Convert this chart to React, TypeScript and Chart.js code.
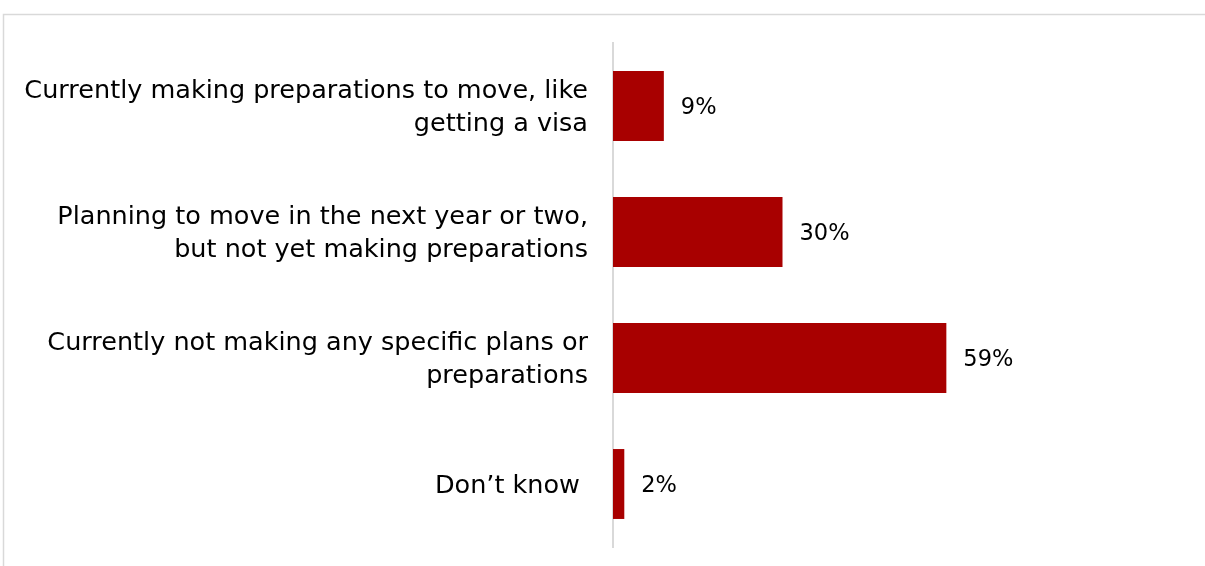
import React, { useEffect, useRef } from "react";
import { Chart, registerables } from "chart.js";

Chart.register(...registerables);

const categories: string[][] = [
  ["Currently making preparations to move, like", "getting a visa"],
  ["Planning to move in the next year or two,", "but not yet making preparations"],
  ["Currently not making any specific plans or", "preparations"],
  ["Don\u2019t know "],
];
const values: number[] = [9, 30, 59, 2];
const valueLabels: string[] = ["9%", "30%", "59%", "2%"];

const FONT = "'DejaVu Sans', sans-serif";

const frame = {
  id: "frame",
  beforeDraw(chart: any) {
    const ctx = chart.ctx;
    ctx.save();
    ctx.strokeStyle = "#d9d9d9";
    ctx.lineWidth = 1.5;
    ctx.strokeRect(3.5, 14.5, 1220, 570);
    ctx.restore();
  },
};

const dataLabels = {
  id: "dataLabels",
  afterDatasetsDraw(chart: any) {
    const ctx = chart.ctx;
    const meta = chart.getDatasetMeta(0);
    ctx.save();
    ctx.fillStyle = "#000";
    ctx.font = `22.5px ${FONT}`;
    ctx.textAlign = "left";
    ctx.textBaseline = "middle";
    meta.data.forEach((bar: any, i: number) => {
      ctx.fillText(valueLabels[i], bar.x + 17, bar.y + 2);
    });
    ctx.restore();
  },
};

export default function App() {
  const ref = useRef<HTMLCanvasElement>(null);
  useEffect(() => {
    document.body.style.margin = "0";
    const chart = new Chart(ref.current!, {
      type: "bar",
      data: {
        labels: categories,
        datasets: [
          {
            data: values,
            backgroundColor: "#A80000",
            categoryPercentage: 1,
            barPercentage: 0.555,
          },
        ],
      },
      options: {
        indexAxis: "y",
        animation: false,
        responsive: false,
        layout: { padding: { top: 43, bottom: 19, right: 27, left: 0 } },
        plugins: { legend: { display: false }, tooltip: { enabled: false } },
        scales: {
          x: { display: false, min: 0, max: 100 },
          y: {
            afterFit: (s: any) => {
              s.width = 613;
              s.paddingTop = 0;
              s.paddingBottom = 0;
            },
            grid: { display: false, drawTicks: false },
            border: { display: true, color: "#d9d9d9", width: 2 },
            ticks: {
              padding: 25,
              labelOffset: 2,
              color: "#000",
              font: { family: FONT, size: 25.5, lineHeight: 1.3 },
            },
          },
        },
      },
      plugins: [frame, dataLabels],
    });
    return () => chart.destroy();
  }, []);
  return <canvas ref={ref} width={1205} height={566} style={{ display: "block" }} />;
}
